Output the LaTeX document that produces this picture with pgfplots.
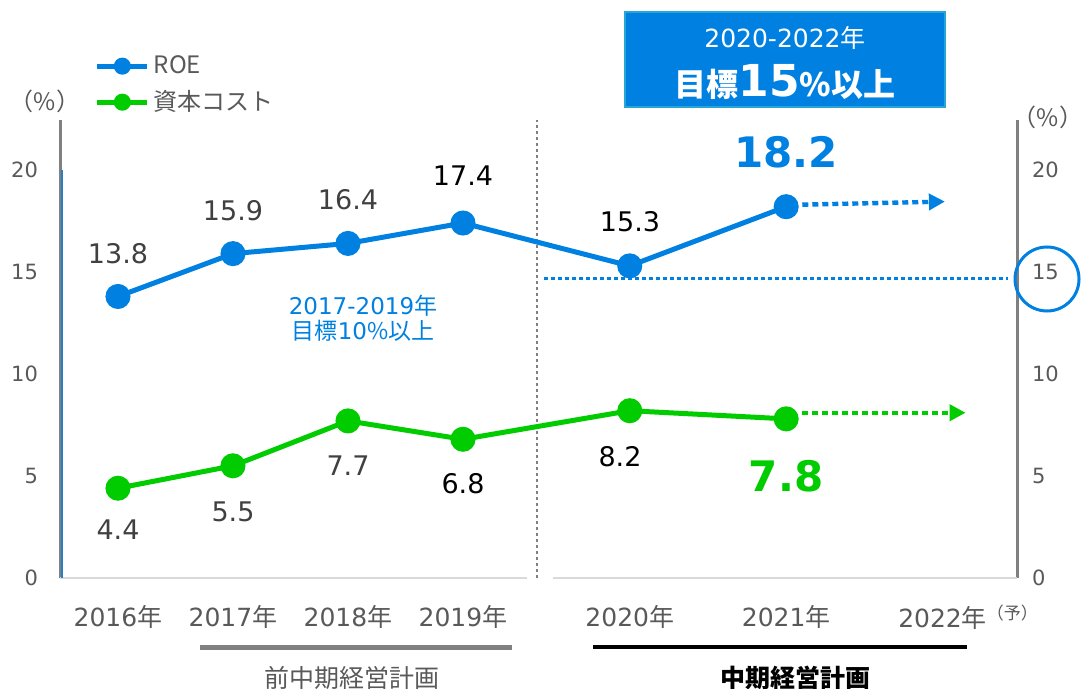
\documentclass[border=0pt]{standalone}
\usepackage{fontspec}
\setmainfont{DejaVu Sans}
\newfontfamily\jp{Noto Sans CJK JP}
\usepackage{pgfplots}
\pgfplotsset{compat=1.18}
\usetikzlibrary{arrows.meta}
\definecolor{roeblue}{RGB}{0,128,224}
\definecolor{cgreen}{RGB}{0,204,0}
\definecolor{boxblue}{RGB}{0,128,224}
\definecolor{boxedge}{RGB}{40,165,215}
\definecolor{labgray}{RGB}{89,89,89}
\definecolor{dkgray}{RGB}{64,64,64}
\definecolor{axgray}{RGB}{128,128,128}
\definecolor{basegray}{RGB}{217,217,217}
\newcommand{\fs}[1]{\fontsize{#1}{#1}\selectfont}
\begin{document}
\begin{tikzpicture}
\useasboundingbox (0,0) rectangle (542.5pt,-344.5pt);
\begin{axis}[
  at={(30pt,-289pt)}, anchor=south west,
  scale only axis, width=478.5pt, height=229pt,
  xmin=-0.504, xmax=7.817, ymin=0, ymax=22.45,
  /pgf/number format/assume math mode=true,
  axis x line*=bottom, axis y line*=left,
  x axis line style={draw=none},
  y axis line style={draw=axgray, line width=1.5pt, -},
  xtick={0,1,2,3,4.45,5.81,7.17},
  xticklabels={2016{\jp 年},2017{\jp 年},2018{\jp 年},2019{\jp 年},2020{\jp 年},2021{\jp 年},2022{\jp 年}\rlap{\raisebox{4pt}{\jp\fs{8.5}（予）}}},
  ytick={0,5,10,15,20},
  major tick length=0pt,
  tick label style={text=labgray},
  y tick label style={font=\fs{10.5}, xshift=-7.5pt},
  x tick label style={font=\fs{12.5}, yshift=-10pt},
  clip=false,
  legend style={at={(axis description cs:0.036,1.15)}, anchor=north west, draw=none, fill=none, font=\jp\fs{12}, text=labgray, row sep=3pt, inner sep=0pt},
  legend cell align=left,
  legend image code/.code={\draw[mark repeat=2,mark phase=2,#1,mark size=3pt] plot coordinates {(0pt,0pt) (12.5pt,0pt) (25pt,0pt)};},
]
% separator
\addplot[forget plot, draw=axgray, line width=1.2pt, dash pattern=on 1.5pt off 1.5pt] coordinates {(3.643,0) (3.643,22.45)};
% target line
\addplot[forget plot, draw=roeblue, line width=1.5pt, dash pattern=on 2pt off 1.5pt] coordinates {(3.70,14.66) (7.74,14.66)};
% forecast arrows
\addplot[forget plot, draw=roeblue, line width=2.2pt, dash pattern=on 3pt off 2pt, -{Triangle[length=8pt,width=8pt]}] coordinates {(5.95,18.3) (7.19,18.45)};
\addplot[forget plot, draw=cgreen, line width=2.2pt, dash pattern=on 3pt off 2pt, -{Triangle[length=8pt,width=8pt]}] coordinates {(5.95,8.1) (7.37,8.1)};
% series
\addplot[roeblue, line width=2.5pt, mark=*, mark size=5pt] coordinates {(0,13.8) (1,15.9) (2,16.4) (3,17.4) (4.45,15.3) (5.81,18.2)};
\addlegendentry{ROE}
\addplot[cgreen, line width=2.5pt, mark=*, mark size=5pt] coordinates {(0,4.4) (1,5.5) (2,7.7) (3,6.8) (4.45,8.2) (5.81,7.8)};
\addlegendentry{資本コスト}
\end{axis}
\begin{axis}[
  at={(30pt,-289pt)}, anchor=south west,
  scale only axis, width=478.5pt, height=229pt,
  xmin=-0.504, xmax=7.817, ymin=0, ymax=22.45,
  /pgf/number format/assume math mode=true,
  axis x line=none, axis y line*=right,
  y axis line style={draw=axgray, line width=1.5pt, -},
  ytick={0,5,10,15,20}, major tick length=0pt,
  y tick label style={font=\fs{10.5}, text=labgray, xshift=4pt},
]
\addplot[draw=none] coordinates {(0,0)};
\end{axis}
\begin{scope}[x=0.5pt,y=-0.5pt]
% baselines
\draw[basegray, line width=1pt] (60,578) -- (527,578);
\draw[basegray, line width=1pt] (553,578) -- (1017,578);
% thin blue on left axis
\draw[roeblue!70!gray, line width=0.8pt] (62,170) -- (62,578);
% percent labels
\node[text=labgray, font=\jp\fs{12}] at (45,101) {（\%）};
\node[text=labgray, font=\jp\fs{12}] at (1048,117) {（\%）};
% data labels
\node[text=dkgray, font=\fs{13.5}] at (118,254) {13.8};
\node[text=dkgray, font=\fs{13.5}] at (233,211) {15.9};
\node[text=dkgray, font=\fs{13.5}] at (348,200) {16.4};
\node[text=black, font=\fs{13.5}] at (463,176) {17.4};
\node[text=black, font=\fs{13.5}] at (630,222) {15.3};
\node[text=dkgray, font=\fs{13.5}] at (118,530) {4.4};
\node[text=dkgray, font=\fs{13.5}] at (233,512) {5.5};
\node[text=dkgray, font=\fs{13.5}] at (348,466) {7.7};
\node[text=black, font=\fs{13.5}] at (463,484) {6.8};
\node[text=black, font=\fs{13.5}] at (620,457) {8.2};
\node[text=roeblue, font=\bfseries\fs{21}] at (786,152) {18.2};
\node[text=cgreen, font=\bfseries\fs{21}] at (786,476) {7.8};
% old target
\node[text=roeblue, font=\fs{11.5}, align=center] at (363,318) {2017-2019{\jp 年}\\[1pt]{\jp 目標}10{\jp \%以上}};
% box
\draw[fill=boxblue, draw=boxedge, line width=1pt] (625,12) rectangle (945,107);
\node[text=white, font=\fs{12.5}] at (785,38) {2020-2022{\jp 年}};
\node[text=white] at (785,82) {{\jp\bfseries\fs{16}目標}{\bfseries\fs{22}15}{\jp\bfseries\fs{16}\%以上}};
% circle
\draw[roeblue, line width=1.5pt] (1047,279) circle[radius=32];
% plan underlines
\draw[axgray, line width=2.5pt] (200,647) -- (512,647);
\node[text=labgray, font=\jp\fs{12.5}] at (352,678) {前中期経営計画};
\draw[black, line width=2.2pt] (593,647) -- (967,647);
\node[text=black, font=\jp\bfseries\fs{12.5}] at (795,678) {中期経営計画};
\end{scope}
\end{tikzpicture}
\end{document}
